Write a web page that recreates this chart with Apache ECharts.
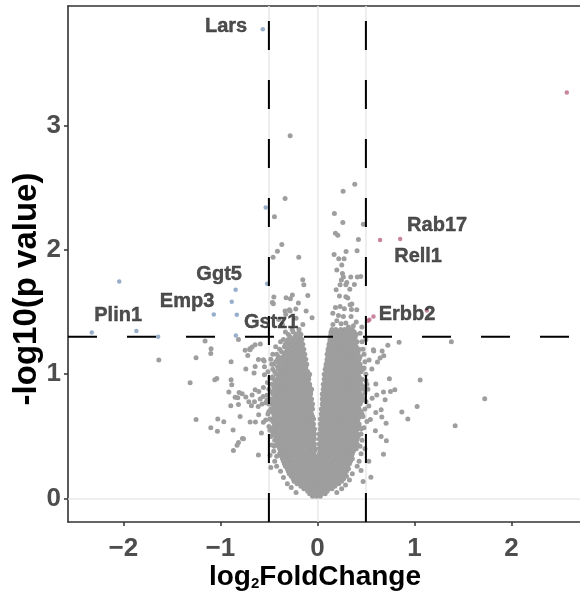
<!DOCTYPE html>
<html>
<head>
<meta charset="utf-8">
<script src="https://cdn.jsdelivr.net/npm/echarts@6/dist/echarts.min.js"></script>
<style>html,body{margin:0;padding:0;background:#fff}#c{width:580px;height:592px}</style>
</head>
<body>
<div id="c"></div>
<script>
// ---------- data ----------
const xTicks = [-2, -1, 0, 1, 2];
const yTicks = [0, 1, 2, 3];
const fcCut = 0.5;          // |log2FC| threshold
const pCut = 1.301;         // -log10(0.05)
const xRange = [-2.571, 2.707];
const yRange = [-0.188, 3.96];

// dense non-significant cloud: [y, [x*100 ...]]
const cloudRows = [
 [0.02,[-5,-1,3]],
 [0.04,[-8,-4,0,4,8]],
 [0.06,[-10,-6,-2,2,6,10]],
 [0.08,[-14,-10,-7,-3,0,4,8,12,15]],
 [0.10,[-17,-13,-9,-5,-1,2,6,10,14,18]],
 [0.12,[-21,-18,-15,-11,-7,-3,0,3,7,11,15,19,22]],
 [0.14,[-24,-20,-16,-12,-8,-4,1,5,9,13,17,21,25]],
 [0.16,[-25,-22,-18,-14,-10,-6,-2,3,7,11,16,19,23,27]],
 [0.18,[-27,-23,-19,-15,-11,-7,-3,2,6,10,14,18,22,26,30]],
 [0.20,[-29,-25,-21,-16,-12,-8,-4,-1,1,4,8,12,16,20,24,28]],
 [0.22,[-30,-26,-22,-18,-14,-10,-6,-2,2,6,10,14,18,22,26,30]],
 [0.24,[-31,-28,-24,-20,-16,-12,-8,-4,1,5,9,13,17,21,25,29,32]],
 [0.26,[-33,-29,-25,-21,-17,-13,-9,-5,-2,3,7,11,15,19,23,27,31]],
 [0.28,[-34,-31,-27,-22,-18,-14,-10,-6,-2,1,5,9,13,16,21,25,29,33]],
 [0.30,[-35,-31,-27,-23,-19,-15,-11,-7,-3,2,6,10,14,18,22,26,30,34]],
 [0.32,[-36,-33,-29,-25,-20,-16,-12,-8,-4,1,4,8,12,17,21,25,29,33,36]],
 [0.34,[-37,-33,-29,-25,-21,-17,-13,-9,-5,-2,3,7,11,15,19,23,27,31,35]],
 [0.36,[-39,-35,-31,-27,-23,-19,-15,-11,-7,-4,2,5,9,13,17,21,25,29,33,36]],
 [0.38,[-38,-34,-30,-26,-22,-18,-14,-10,-6,-3,3,6,10,14,18,22,26,30,34,37]],
 [0.40,[-39,-35,-31,-27,-23,-19,-15,-10,-6,-2,2,5,9,13,17,21,25,29,33,37,40]],
 [0.42,[-40,-36,-32,-28,-24,-20,-16,-12,-8,-4,3,7,11,15,19,23,27,31,35,39]],
 [0.44,[-42,-38,-34,-30,-26,-22,-18,-14,-10,-6,-3,2,5,9,13,17,21,25,29,33,37,41]],
 [0.46,[-41,-37,-33,-29,-25,-21,-17,-13,-9,-5,4,8,12,16,20,24,28,32,36,40]],
 [0.48,[-42,-39,-35,-31,-27,-23,-19,-15,-11,-7,-3,2,6,10,14,18,22,26,30,34,38,41]],
 [0.50,[-43,-39,-35,-31,-27,-23,-19,-15,-11,-7,-4,3,6,10,14,18,22,26,30,34,38,42]],
 [0.52,[-45,-41,-37,-33,-30,-26,-22,-18,-14,-10,-6,-3,2,6,10,14,18,22,26,30,34,38,41]],
 [0.54,[-44,-40,-36,-32,-28,-24,-20,-16,-12,-8,-4,4,8,12,16,20,24,28,32,36,40]],
 [0.56,[-46,-42,-38,-34,-30,-26,-22,-18,-14,-10,-6,-3,3,6,9,13,17,21,25,29,33,37,41,45]],
 [0.58,[-45,-41,-37,-33,-29,-25,-21,-17,-13,-9,-5,4,7,11,15,19,23,27,31,35,39,43]],
 [0.60,[-44,-40,-36,-31,-27,-23,-19,-15,-11,-7,-4,3,7,11,15,19,23,27,31,35,39,43]],
 [0.62,[-46,-42,-38,-34,-30,-26,-22,-18,-14,-10,-6,5,9,13,17,21,25,29,33,37,41]],
 [0.64,[-47,-43,-39,-35,-31,-27,-23,-19,-15,-11,-7,-4,3,7,10,14,18,22,26,30,34,38,42]],
 [0.66,[-44,-40,-36,-32,-28,-24,-20,-16,-12,-8,-5,5,8,12,16,20,24,28,32,36,40,44]],
 [0.68,[-45,-42,-38,-34,-30,-26,-22,-18,-14,-10,-6,4,7,10,14,18,22,26,30,34,38,42,46]],
 [0.70,[-47,-43,-39,-35,-31,-27,-23,-19,-15,-11,-7,5,9,13,17,21,25,29,33,37,41,45]],
 [0.72,[-48,-44,-40,-37,-33,-29,-25,-21,-17,-13,-9,-5,4,8,11,15,19,23,27,31,35,39,43]],
 [0.74,[-45,-41,-37,-33,-29,-25,-21,-17,-13,-9,-6,6,10,14,18,22,26,30,34,38,42]],
 [0.76,[-47,-43,-39,-35,-31,-27,-23,-19,-15,-11,-8,-5,5,8,12,16,20,24,28,32,36,40,44]],
 [0.78,[-46,-42,-38,-34,-30,-26,-22,-18,-14,-10,-7,6,9,13,17,21,25,29,33,37,41,45]],
 [0.80,[-48,-44,-40,-36,-32,-28,-24,-20,-16,-12,-9,-6,5,8,11,15,19,23,27,31,35,39,43,47]],
 [0.82,[-44,-40,-36,-32,-28,-24,-20,-16,-12,-8,6,10,14,18,22,26,30,34,38,42,46]],
 [0.84,[-46,-42,-38,-34,-30,-26,-22,-18,-14,-10,-7,5,8,12,16,20,24,28,32,36,40,44]],
 [0.86,[-47,-42,-38,-34,-30,-26,-22,-18,-14,-10,-7,7,11,15,19,23,27,31,35,39,43]],
 [0.88,[-44,-40,-36,-32,-28,-24,-20,-16,-12,-9,-6,6,9,12,16,20,24,28,32,36,40,44,48]],
 [0.90,[-45,-40,-36,-32,-28,-24,-20,-16,-12,-8,7,10,14,18,22,26,30,34,38,42,47]],
 [0.92,[-47,-42,-38,-34,-30,-26,-22,-18,-14,-11,-8,6,10,14,18,22,26,30,34,38,42,45]],
 [0.94,[-43,-38,-34,-30,-26,-22,-18,-14,-10,8,12,16,20,24,28,32,36,40,44]],
 [0.96,[-45,-41,-36,-32,-28,-24,-20,-16,-12,-9,7,10,13,17,21,25,29,33,37,41,46]],
 [0.98,[-46,-40,-36,-32,-28,-24,-20,-16,-12,-9,8,11,15,19,23,27,31,35,39,43]],
 [1.00,[-42,-38,-34,-30,-26,-22,-18,-14,-11,-8,7,11,15,19,23,27,31,35,39,42]],
 [1.02,[-44,-38,-34,-30,-26,-22,-18,-14,-10,9,13,17,21,25,29,33,37,41,45]],
 [1.04,[-46,-40,-36,-32,-28,-24,-20,-16,-12,8,11,15,19,23,27,31,35,39,43,47]],
 [1.06,[-41,-36,-32,-28,-24,-20,-16,-12,9,12,16,20,24,28,32,36,40,44]],
 [1.08,[-45,-39,-34,-30,-26,-22,-18,-14,-11,9,13,16,20,24,28,32,36,40,44]],
 [1.10,[-43,-38,-33,-29,-25,-21,-17,-13,10,14,18,22,26,30,34,38,42]],
 [1.12,[-41,-36,-31,-27,-23,-19,-15,-12,10,13,16,20,24,28,32,36,40,43]],
 [1.14,[-40,-35,-30,-26,-22,-18,-14,11,15,19,23,27,31,35,39,44]],
 [1.16,[-42,-34,-29,-25,-21,-17,-13,10,13,17,21,25,29,33,37,41]],
 [1.18,[-37,-32,-27,-23,-19,-15,11,14,18,22,26,30,34,38,42]],
 [1.20,[-39,-31,-27,-22,-18,-14,11,15,19,23,27,31,35,39,43]],
 [1.22,[-34,-29,-25,-20,-16,12,16,20,24,28,32,36,40]],
 [1.24,[-33,-28,-23,-19,-15,12,15,19,23,27,31,35,39]],
 [1.26,[-38,-31,-26,-21,-17,13,17,21,25,29,33,37,41]],
 [1.28,[-35,-30,-25,-20,-16,13,17,22,26,30,34,38]],
 [1.30,[-28,-23,-18,13,16,20,24,28,32,36,39]],
 [1.32,[-30,-22,-17,14,17,21,25,29,33,37,40]],
 [1.34,[-33,-25,-19,14,18,22,26,30,34,38]],
 [1.36,[-26,-19,15,19,24,28,32,36]]
];

// scattered non-significant genes [log2FC, -log10 p]
const otherGenes = [
 [-0.333,2.412],[-0.443,2.265],[-0.281,2.916],[-0.367,2.043],[-0.412,1.989],[-0.457,1.941],[-0.192,1.941],
 [-0.151,1.759],[-0.140,1.719],[-0.449,1.620],[-0.323,1.614],[-0.278,1.606],[-0.258,1.636],[-0.099,1.633],
 [-0.454,1.566],[-0.333,1.508],[-0.281,1.508],[-0.223,1.524],[-0.116,1.508],[-0.464,1.577],[-0.196,1.572],
 [-0.289,1.518],[-0.326,1.483],[-0.055,1.454],[-0.22,1.45],[-0.40,1.44],[-0.36,1.40],[-0.15,1.40],
 [-1.635,1.114],[-1.158,1.267],[-1.096,1.205],[-1.099,1.167],[-1.251,1.133],[-1.312,0.932],[-1.058,0.956],
 [-1.037,0.966],[-1.251,0.635],[-1.099,0.570],[-1.027,0.640],[-0.965,0.618],[-1.031,0.541],[-0.890,1.100],
 [-0.814,1.280],[-0.718,1.151],[-0.673,1.218],[-0.697,1.205],[-0.588,1.243],[-0.608,1.119],[-0.549,1.106],
 [-0.738,1.042],[-0.653,1.010],[-0.642,1.063],[-0.546,0.996],[-0.890,0.956],[-0.883,0.916],[-0.913,0.857],
 [-0.848,0.814],[-0.807,0.854],[-0.776,0.843],[-0.738,0.817],[-0.821,0.811],[-0.707,0.779],[-0.673,0.833],
 [-0.893,0.747],[-0.814,0.757],[-0.680,0.747],[-0.649,0.779],[-0.59,0.80],[-0.56,0.82],[-0.57,0.76],
 [-0.61,0.74],[-0.53,0.77],[-0.52,0.79],[-0.797,0.661],[-0.694,0.616],[-0.639,0.616],[-0.605,0.675],
 [-0.533,0.632],[-0.557,0.613],[-0.577,0.528],[-0.869,0.552],[-0.762,0.482],[-0.814,0.452],[-0.828,0.428],
 [-0.866,0.386],[-0.608,0.351],[-0.488,0.348],[-0.745,1.192],[-0.546,1.060],[-0.557,0.894],[-0.515,0.934],
 [-0.604,0.862],[-0.642,0.876],[-0.445,0.420],[-0.773,0.484],[-0.642,1.237],[-0.694,1.197],[-0.557,1.116],
 [-0.50,0.70],[-0.49,0.55],[-0.48,0.25],[-0.51,1.02],[-0.48,1.12],
 [-0.44,0.30],[-0.42,0.34],[-0.45,0.38],[-0.47,0.43],[-0.44,0.47],[-0.48,0.50],[-0.46,0.53],[-0.50,0.58],
 [-0.49,0.64],[-0.51,0.68],[-0.50,0.76],[-0.52,0.83],[-0.50,0.88],[-0.49,0.97],[-0.47,1.08],[-0.46,1.16],
 [-0.43,1.22],[-0.42,0.26],[-0.38,0.22],[-0.35,0.17],[-0.31,0.12],[-0.27,0.09],[-0.22,0.05],
 [0.385,2.528],[0.265,2.471],[0.175,2.292],[0.262,2.219],[0.474,2.206],[0.186,2.134],[0.210,2.118],
 [0.423,2.083],[0.172,1.963],[0.220,1.928],[0.296,1.987],[0.409,1.992],[0.275,1.928],[0.251,1.877],
 [0.200,1.837],[0.258,1.810],[0.268,1.781],[0.344,1.781],[0.412,1.781],[0.447,1.786],[0.247,1.757],
 [0.293,1.719],[0.381,1.721],[0.193,1.679],[0.334,1.684],[0.227,1.628],[0.293,1.622],[0.313,1.612],
 [0.355,1.564],[0.186,1.537],[0.234,1.545],[0.278,1.526],[0.351,1.520],[0.159,1.491],[0.217,1.472],
 [0.268,1.464],[0.347,1.464],[0.200,1.430],[0.244,1.406],[0.293,1.411],[0.371,1.390],[0.458,1.379],
 [0.234,1.719],[0.303,1.737],[0.406,1.518],[0.337,1.558],[0.16,1.40],[0.32,1.38],[0.40,1.42],
 [1.381,1.261],[0.842,1.256],[0.726,1.232],[0.581,1.186],[0.667,1.186],[0.684,1.149],[0.619,1.098],
 [0.533,1.114],[0.561,1.042],[0.742,0.964],[1.059,0.953],[0.602,0.921],[0.798,0.876],[0.753,0.862],
 [0.681,0.857],[0.612,0.833],[0.564,0.806],[0.698,0.795],[0.530,0.745],[0.657,0.715],[1.028,0.741],
 [0.870,0.696],[0.932,0.640],[0.602,0.693],[0.546,0.635],[0.664,0.656],[0.708,0.605],[1.420,0.586],
 [0.598,0.546],[0.657,0.500],[0.711,0.466],[0.681,0.356],[0.551,0.171],[0.450,0.225],[0.471,0.137],
 [1.725,0.803],[0.577,1.197],[0.646,1.130],[0.50,0.95],[0.52,0.88],[0.48,1.05],[0.51,0.62],[0.49,0.40],
 [0.53,0.30],[0.47,1.20],[0.50,1.28],
 [0.43,0.30],[0.41,0.26],[0.45,0.36],[0.44,0.42],[0.46,0.47],[0.45,0.52],[0.48,0.57],[0.47,0.66],
 [0.49,0.72],[0.50,0.78],[0.49,0.85],[0.51,0.92],[0.50,1.00],[0.49,1.10],[0.48,1.16],[0.46,1.26],
 [0.44,1.33],[0.36,0.20],[0.33,0.15],[0.29,0.11],[0.25,0.08],[0.20,0.05]
];

// significantly down-regulated genes
const downGenes = [
 [-0.563,3.773],[-0.533,2.340],[-0.518,1.727],[-2.043,1.745],[-0.843,1.679],[-0.883,1.582],
 [-1.068,1.480],[-0.831,1.478],[-2.326,1.336],[-1.866,1.347],[-1.642,1.301],[-0.841,1.312]
];
// significantly up-regulated genes
const upGenes = [
 [2.571,3.264],[0.646,2.078],[0.853,2.086],[0.578,1.464],[0.536,1.438],[0.522,1.430],[1.128,1.512]
];
// gene name labels (text anchor in data units)
const geneLabels = [
 ['Lars',-0.941,3.799],['Ggt5',-1.013,1.799],['Emp3',-1.344,1.582],['Plin1',-2.054,1.470],
 ['Gstz1',-0.477,1.414],['Rab17',1.234,2.193],['Rell1',1.038,1.944],['Erbb2',0.924,1.478]
];

// ---------- chart ----------
const FONT = "'Liberation Sans', Arial, sans-serif";
const grayData = [];
cloudRows.forEach(([y, xs]) => xs.forEach(x => grayData.push([x / 100, y])));
otherGenes.forEach(p => grayData.push(p));

const chart = echarts.init(document.getElementById('c'), null, {renderer: 'canvas'});
const dashStyle = {color: '#000', width: 2, type: [29, 30]};
const frame = {show: true, onZero: false, lineStyle: {color: '#333', width: 1.6}};
chart.setOption({
  animation: false,
  grid: {left: 68, top: 6, right: 0, bottom: 70},
  xAxis: [{
    type: 'value', min: xRange[0], max: xRange[1],
    axisLine: frame,
    splitLine: {show: false},
    axisTick: {show: true, length: 4, customValues: xTicks, lineStyle: {color: '#333', width: 1.5}},
    axisLabel: {customValues: xTicks, margin: 14, color: '#4d4d4d', fontSize: 26, fontWeight: 'bold', fontFamily: FONT,
      formatter: v => (v < 0 ? '\u2212' + Math.abs(v) : String(v))}
  }, {
    type: 'value', position: 'top', min: xRange[0], max: xRange[1],
    axisLine: frame, axisTick: {show: false}, axisLabel: {show: false}, splitLine: {show: false}
  }],
  yAxis: {
    type: 'value', min: yRange[0], max: yRange[1],
    axisLine: frame,
    splitLine: {show: false},
    axisTick: {show: true, length: 4, customValues: yTicks, lineStyle: {color: '#333', width: 1.5}},
    axisLabel: {customValues: yTicks, margin: 7, color: '#4d4d4d', fontSize: 26, fontWeight: 'bold', fontFamily: FONT}
  },
  series: [
    {type: 'line', data: [], z: 1, silent: true,
     markLine: {silent: true, z: 1, symbol: 'none', label: {show: false},
       lineStyle: {color: '#e8e8e8', width: 1.5, type: 'solid'},
       data: [{xAxis: 0}, {xAxis: -fcCut}, {xAxis: fcCut}, {yAxis: 0}]}},
    {type: 'scatter', data: grayData, symbolSize: 5, z: 2, itemStyle: {color: '#9e9e9e', opacity: 1}},
    {type: 'scatter', data: downGenes, symbolSize: 4.5, z: 3, itemStyle: {color: '#7d9bbe'}},
    {type: 'scatter', data: upGenes, symbolSize: 4.5, z: 3, itemStyle: {color: '#bb6587'}},
    {type: 'line', data: [[-fcCut, yRange[0]], [-fcCut, yRange[1]]], showSymbol: false, z: 6, lineStyle: dashStyle},
    {type: 'line', data: [[fcCut, yRange[0]], [fcCut, yRange[1]]], showSymbol: false, z: 6, lineStyle: dashStyle},
    {type: 'line', data: [[xRange[0], pCut], [xRange[1], pCut]], showSymbol: false, z: 6, lineStyle: dashStyle},
    {type: 'scatter', z: 7, symbolSize: 1, itemStyle: {color: 'rgba(0,0,0,0)'},
     data: geneLabels.map(g => ({name: g[0], value: [g[1], g[2]]})),
     label: {show: true, position: 'inside', formatter: p => p.name, color: '#222', fontSize: 20,
       fontWeight: 'bold', fontFamily: FONT, textBorderColor: '#222', textBorderWidth: 0.4}}
  ],
  graphic: [
    {type: 'text', x: 315, y: 577, z: 10,
     style: {text: '{a|log}{s|2}{a|FoldChange}', align: 'center', verticalAlign: 'middle',
       rich: {a: {fontSize: 28, fontWeight: 'bold', fontFamily: FONT, fill: '#000'},
              s: {fontSize: 15, fontWeight: 'bold', fontFamily: FONT, fill: '#000', padding: [14, 0, 0, 0]}}}},
    {type: 'text', x: 27, y: 289, rotation: Math.PI / 2, z: 10,
     style: {text: '-log10(p value)', align: 'center', verticalAlign: 'middle', fontSize: 33,
       fontWeight: 'bold', fontFamily: FONT, fill: '#000'}}
  ]
});
</script>
</body>
</html>
